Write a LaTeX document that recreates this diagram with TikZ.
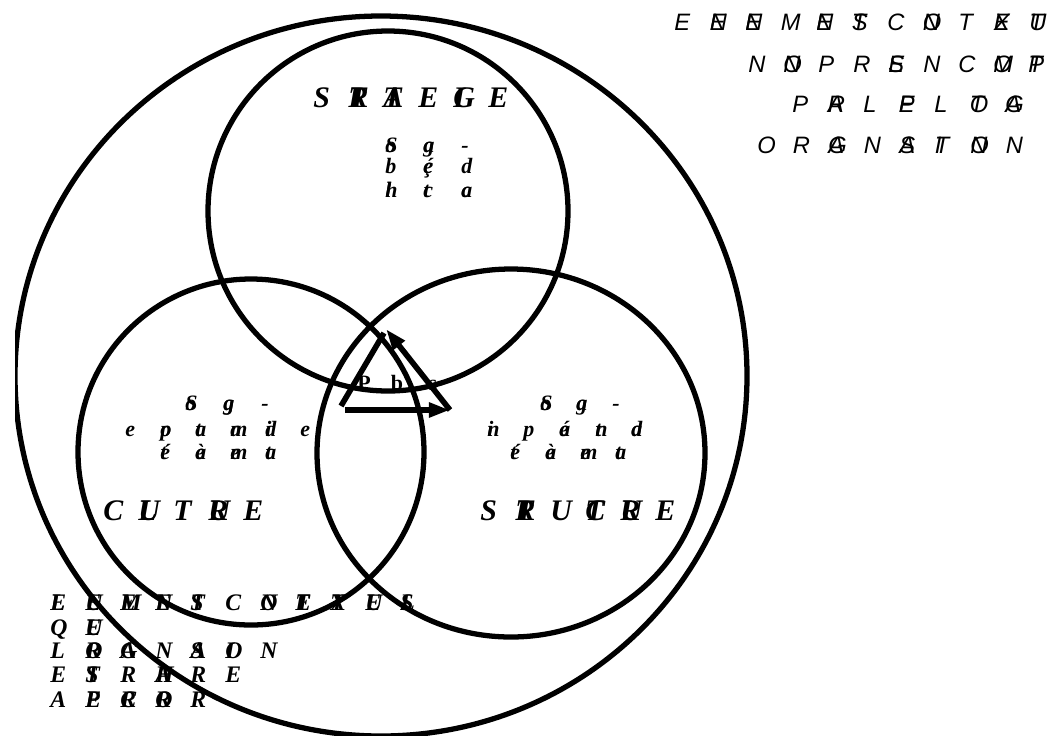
\documentclass[tikz,border=0pt]{standalone}
\usepackage{fontspec}
\setmainfont{Liberation Serif}
\newfontfamily\ctxsans{Liberation Sans}
\usetikzlibrary{arrows.meta}

% glyph rows: each slot holds one letter or two letters laid over each other
\newlength\slotw
\def\glyphpair#1#2\relax{\rlap{#1}#2}
\newcommand\glyphslot[1]{\makebox[\slotw][l]{\expandafter\glyphpair#1\relax}}
\newcommand\glyphrow[2]{\setlength\slotw{#1}\foreach \g in {#2}{\glyphslot{\g}}}

\tikzset{
  ring/.style={line width=3pt},
  toptxt/.style={inner sep=0pt, anchor=base west, font=\ctxsans\itshape\fontsize{13.5}{15}\selectfont},
  lowtxt/.style={inner sep=0pt, anchor=base west, font=\bfseries\itshape\fontsize{13.5}{15}\selectfont},
  title/.style={inner sep=0pt, anchor=base west, font=\bfseries\itshape\fontsize{17}{19}\selectfont},
  subtxt/.style={inner sep=0pt, anchor=base west, font=\bfseries\itshape\fontsize{12.5}{14}\selectfont},
  pilot/.style={inner sep=0pt, anchor=base, font=\bfseries\fontsize{12.5}{14}\selectfont},
  loop/.style={line width=3.2pt, -{Triangle[length=12pt,width=8pt]}}
}

\begin{document}
\begin{tikzpicture}[x=0.02cm, y=-0.02cm]
  \clip (0,0) rectangle (1051,735);

  % environment
  \begin{scope}
    \clip (15,0) rectangle (1051,735);
    \draw[ring] (381,376) ellipse [x radius=366, y radius=360];
  \end{scope}

  % the three subsystems
  \draw[ring] (388,211) circle [radius=180];
  \draw[ring] (251,452) circle [radius=173];
  \draw[ring] (511,453) ellipse [x radius=194, y radius=184];

  % pilotage triangle
  \coordinate (pa) at (386,329);
  \coordinate (pb) at (341,406);
  \coordinate (pbb) at (345,410);
  \coordinate (pc) at (450,410);
  \draw[line width=3.2pt] (384,333) -- (pb);
  \draw[loop] (pbb) -- (pc);
  \draw[loop] (pc) -- (pa);
  \node[pilot] (pil1) at (364,390) {P};
  \node[pilot] (pil2) at (397,390) {b};
  \node[pilot] (pil3) at (433,390) {s};

  % titles
  \node[title] (strat) at (313,107) {\glyphrow{0.7cm}{S,TR,AT,E,GI,E}};
  \node[title] (cult) at (103,520) {\glyphrow{0.7cm}{C,UL,T,UR,E}};
  \node[title] (struc) at (480,520) {\glyphrow{0.7cm}{S,TR,U,CT,UR,E}};

  % sub-systems text
  \node[subtxt] (strat1) at (385,152) {\glyphrow{0.76cm}{So,ga,-}};
  \node[subtxt] (strat2) at (385,173) {\glyphrow{0.76cm}{b,çé,d}};
  \node[subtxt] (strat3) at (385,197) {\glyphrow{0.76cm}{hl,tc,ac}};

  \node[subtxt] (cult1) at (185,410) {\glyphrow{0.76cm}{So,gg,-}};
  \node[subtxt] (cult2) at (125,436) {\glyphrow{0.7cm}{e,po,ta,ma,di,e}};
  \node[subtxt] (cult3) at (160,459) {\glyphrow{0.7cm}{ét,èa,me,ta}};

  \node[subtxt] (struc1) at (540,410) {\glyphrow{0.72cm}{So,ga,-}};
  \node[subtxt] (struc2) at (487,436) {\glyphrow{0.72cm}{in,p,éa,tn,da}};
  \node[subtxt] (struc3) at (510,459) {\glyphrow{0.7cm}{ét,èa,me,ta}};

  % context, not taken in charge
  \node[toptxt] (ctx1) at (674,30) {\glyphrow{0.71cm}{E,EN,EN,M,EN,ST,C,ON,T,EX,UT}};
  \node[toptxt] (ctx2) at (748,72) {\glyphrow{0.70cm}{N,ON,P,R,ES,N,C,OM,PT}};
  \node[toptxt] (ctx3) at (792,112) {\glyphrow{0.71cm}{P,AR,L,EP,L,OT,AG}};
  \node[toptxt] (ctx4) at (757,153) {\glyphrow{0.71cm}{O,R,GA,N,SA,TI,ON,N}};

  % context, appropriated
  \node[lowtxt] (own1) at (50,610) {\glyphrow{0.7cm}{EL,EU,ME,EN,TS,C,ON,TE,XT,UE,LS}};
  \node[lowtxt] (own2) at (50,635) {\glyphrow{0.7cm}{Q,UE}};
  \node[lowtxt] (own3) at (50,658) {\glyphrow{0.7cm}{L,OR,GA,N,SA,IO,N}};
  \node[lowtxt] (own4) at (50,682) {\glyphrow{0.7cm}{E,ST,R,AH,R,E}};
  \node[lowtxt] (own5) at (50,707) {\glyphrow{0.7cm}{A,PE,RC,RO,R}};
\end{tikzpicture}
\end{document}
